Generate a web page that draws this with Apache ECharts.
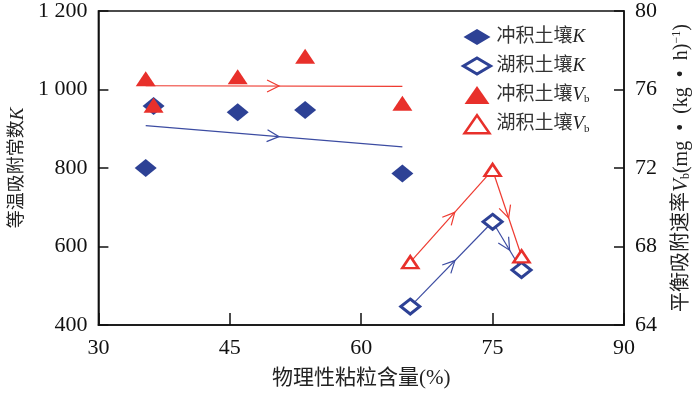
<!DOCTYPE html>
<html>
<head>
<meta charset="utf-8">
<script src="https://cdn.jsdelivr.net/npm/echarts@6/dist/echarts.min.js"></script>
<style>
  html, body { margin: 0; padding: 0; background: #fff; }
  #main { width: 700px; height: 394px; }
</style>
</head>
<body>
<div id="main"></div>
<script>
// 冲积土壤 (alluvial) points
var alluvialX  = [35.4, 36.3, 45.9, 53.6, 64.7];
var alluvialK  = [800, 958, 942, 948, 786];
var alluvialVb = [76.55, 75.2, 76.65, 77.7, 75.3];
// 湖积土壤 (lacustrine) points
var lakeX  = [65.6, 75.0, 78.3];
var lakeK  = [447, 663, 540];
var lakeVb = [67.2, 71.9, 67.5];
// fitted trend lines of alluvial soil
var fitX  = [35.4, 64.7];
var fitK  = [908, 854];
var fitVb = [76.19, 76.16];

var xTicks  = [30, 45, 60, 75, 90];
var kTicks  = [400, 600, 800, 1000, 1200];
var vbTicks = [64, 68, 72, 76, 80];

var seriesNames = ['冲积土壤K', '湖积土壤K', '冲积土壤Vb', '湖积土壤Vb'];
var legendText  = ['冲积土壤{i|K}', '湖积土壤{i|K}', '冲积土壤{i|V}{sub|b}', '湖积土壤{i|V}{sub|b}'];

var BLUE = '#2d4195';
var RED = '#e8302b';
var SERIF = '"Liberation Serif", "Noto Sans CJK SC", serif';
var DIAMOND_ICON = 'path://M11,0L22,6.5L11,13L0,6.5Z';
var TRIANGLE_ICON = 'path://M9,0L18,13L0,13Z';

function zip(xs, ys) {
  return xs.map(function (x, i) { return [x, ys[i]]; });
}
// consecutive segments [x1, y1, x2, y2]
function segs(xs, ys) {
  var out = [];
  for (var i = 1; i < xs.length; i++) out.push([xs[i - 1], ys[i - 1], xs[i], ys[i]]);
  return out;
}

// line with an open arrow head half way along each segment
function arrowSeg(color) {
  return function (params, api) {
    var a = api.coord([api.value(0), api.value(1)]);
    var b = api.coord([api.value(2), api.value(3)]);
    var dx = b[0] - a[0], dy = b[1] - a[1];
    var len = Math.sqrt(dx * dx + dy * dy);
    var ux = dx / len, uy = dy / len;
    var nx = -uy, ny = ux;
    var tip = [a[0] + dx * 0.5 + ux * 5, a[1] + dy * 0.5 + uy * 5];
    var p1 = [tip[0] - ux * 12 + nx * 6, tip[1] - uy * 12 + ny * 6];
    var p2 = [tip[0] - ux * 12 - nx * 6, tip[1] - uy * 12 - ny * 6];
    return {
      type: 'group',
      children: [
        { type: 'line', shape: { x1: a[0], y1: a[1], x2: b[0], y2: b[1] },
          style: { stroke: color, lineWidth: 1.2 } },
        { type: 'polyline', shape: { points: [p1, tip, p2] },
          style: { stroke: color, fill: null, lineWidth: 1.2 } }
      ]
    };
  };
}

function lineSeries(xs, ys, yIdx, color) {
  return {
    type: 'custom',
    yAxisIndex: yIdx,
    z: 1,
    silent: true,
    renderItem: arrowSeg(color),
    encode: { x: [0, 2], y: [1, 3] },
    data: segs(xs, ys)
  };
}

var richText = {
  i: { fontFamily: '"Liberation Serif", serif', fontStyle: 'italic', fontSize: 19, color: '#222' },
  sub: { fontFamily: '"Liberation Serif", serif', fontSize: 11, color: '#222', verticalAlign: 'bottom', lineHeight: 12 },
  sup: { fontFamily: '"Liberation Serif", serif', fontSize: 11, color: '#222', verticalAlign: 'top', lineHeight: 12 }
};

var myChart = echarts.init(document.getElementById('main'));

var option = {
  animation: false,
  backgroundColor: '#fff',
  grid: { left: 93, right: 74, top: 7, bottom: 68, show: true, borderColor: '#111', borderWidth: 1.5 },
  legend: {
    orient: 'vertical',
    left: 457,
    top: 22,
    itemWidth: 27,
    itemHeight: 18,
    itemGap: 9,
    data: [
      { name: seriesNames[0], icon: DIAMOND_ICON },
      { name: seriesNames[1], icon: DIAMOND_ICON, itemStyle: { borderWidth: 3 } },
      { name: seriesNames[2], icon: TRIANGLE_ICON },
      { name: seriesNames[3], icon: TRIANGLE_ICON, itemStyle: { borderWidth: 2.5 } }
    ],
    formatter: function (name) { return legendText[seriesNames.indexOf(name)]; },
    textStyle: { fontFamily: SERIF, fontSize: 19, color: '#333', lineHeight: 20, padding: [0, 0, 0, 1], rich: richText }
  },
  xAxis: {
    type: 'value',
    min: xTicks[0], max: xTicks[xTicks.length - 1], interval: 15,
    name: '物理性粘粒含量(%)',
    nameLocation: 'middle',
    nameGap: 43,
    nameTextStyle: { fontFamily: SERIF, fontSize: 21, color: '#222' },
    axisLine: { lineStyle: { color: '#111', width: 1.5 } },
    axisTick: { inside: true, length: 12, lineStyle: { color: '#111', width: 1.5 } },
    axisLabel: { fontFamily: SERIF, fontSize: 22, color: '#111', margin: 12 },
    splitLine: { show: false }
  },
  yAxis: [
    {
      type: 'value',
      min: kTicks[0], max: kTicks[kTicks.length - 1], interval: 200,
      name: '等温吸附常数{i|K}',
      nameLocation: 'middle',
      nameRotate: 90,
      nameGap: 69,
      nameTextStyle: { fontFamily: SERIF, fontSize: 18, color: '#222', rich: richText },
      axisLine: { show: true, lineStyle: { color: '#111', width: 1.5 } },
      axisTick: { inside: true, length: 10, lineStyle: { color: '#111', width: 1.5 } },
      axisLabel: {
        fontFamily: SERIF, fontSize: 22, color: '#111', margin: 11,
        formatter: function (v) {
          return v >= 1000 ? Math.floor(v / 1000) + ' ' + String(v % 1000).padStart(3, '0') : String(v);
        }
      },
      splitLine: { show: false }
    },
    {
      type: 'value',
      position: 'right',
      min: vbTicks[0], max: vbTicks[vbTicks.length - 1], interval: 4,
      name: '平衡吸附速率{vi|V}{vsub|b}(mg  •  (kg  •  h){vsup|−1})',
      nameLocation: 'middle',
      nameRotate: 90,
      nameGap: 47,
      nameTextStyle: {
        fontFamily: SERIF, fontSize: 20, color: '#222',
        rich: {
          vi: { fontFamily: '"Liberation Serif", serif', fontStyle: 'italic', fontSize: 21, color: '#222' },
          vsub: { fontFamily: '"Liberation Serif", serif', fontSize: 12, color: '#222', verticalAlign: 'bottom', lineHeight: 12 },
          vsup: { fontFamily: '"Liberation Serif", serif', fontSize: 12, color: '#222', verticalAlign: 'top', lineHeight: 12 }
        }
      },
      axisLine: { show: true, lineStyle: { color: '#111', width: 1.5 } },
      axisTick: { inside: true, length: 10, lineStyle: { color: '#111', width: 1.5 } },
      axisLabel: { fontFamily: SERIF, fontSize: 22, color: '#111', margin: 11 },
      splitLine: { show: false }
    }
  ],
  series: [
    lineSeries(fitX, fitK, 0, '#3c4ca2'),
    lineSeries(fitX, fitVb, 1, '#ee3a30'),
    lineSeries(lakeX, lakeK, 0, '#3c4ca2'),
    lineSeries(lakeX, lakeVb, 1, '#ee3a30'),
    {
      name: seriesNames[0], type: 'scatter', yAxisIndex: 0, z: 2,
      symbol: 'diamond', symbolSize: [22, 18],
      itemStyle: { color: BLUE, opacity: 1 },
      data: zip(alluvialX, alluvialK)
    },
    {
      name: seriesNames[1], type: 'scatter', yAxisIndex: 0, z: 2,
      symbol: 'diamond', symbolSize: [19, 15],
      itemStyle: { color: '#fff', borderColor: BLUE, borderWidth: 3, opacity: 1 },
      data: zip(lakeX, lakeK)
    },
    {
      name: seriesNames[2], type: 'scatter', yAxisIndex: 1, z: 3,
      symbol: 'triangle', symbolSize: [20, 15],
      itemStyle: { color: RED, opacity: 1 },
      data: zip(alluvialX, alluvialVb)
    },
    {
      name: seriesNames[3], type: 'scatter', yAxisIndex: 1, z: 3,
      symbol: 'triangle', symbolSize: [16, 12],
      itemStyle: { color: '#fff', borderColor: RED, borderWidth: 2.5, opacity: 1 },
      data: zip(lakeX, lakeVb)
    }
  ]
};

myChart.setOption(option);
window.onresize = myChart.resize;
</script>
</body>
</html>
